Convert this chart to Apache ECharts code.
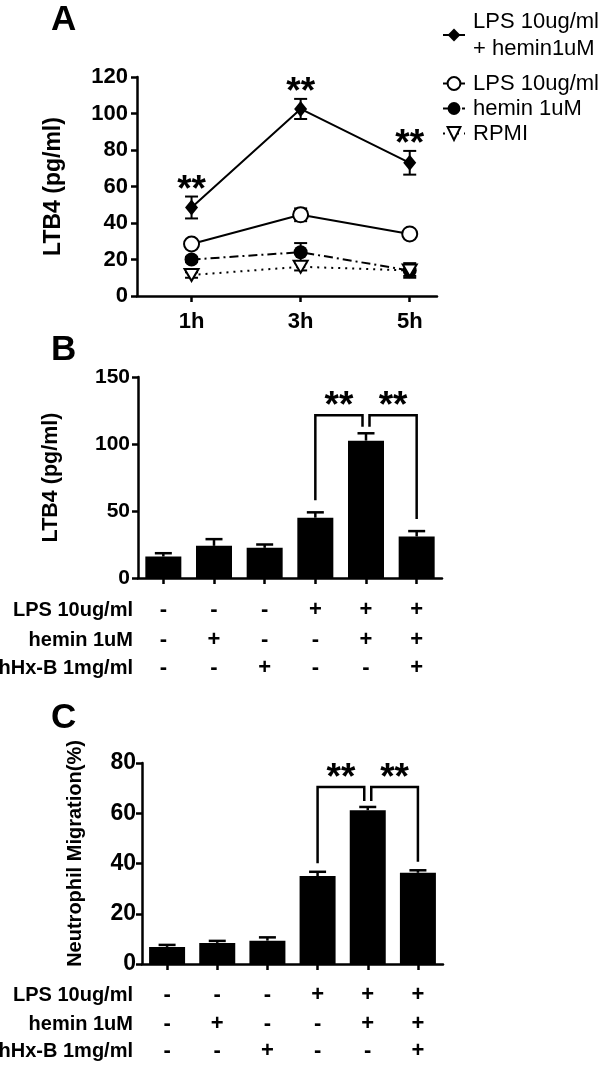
<!DOCTYPE html>
<html><head><meta charset="utf-8">
<script src="https://cdn.jsdelivr.net/npm/echarts@6/dist/echarts.min.js"></script>
<style>html,body{margin:0;padding:0;background:#fff}#c{width:605px;height:1067px}</style>
</head><body><div id="c"></div>
<script>
const FONT = "'Liberation Sans', Arial, sans-serif";

// ---------- Panel A data ----------
const timeLabels = ['1h', '3h', '5h'];
const timeValues = [1, 3, 5];
const groupNames = ['LPS 10ug/ml\n+ hemin1uM', 'LPS 10ug/ml', 'hemin 1uM', 'RPMI'];
const lpsHeminMean = [48.5, 102.5, 73];
const lpsHeminErr = [6, 5.5, 6.5];
const lpsMean = [28.5, 44.5, 34];
const lpsErr = [1.5, 3.5, 1.5];
const heminMean = [20, 24, 14];
const heminErr = [1.5, 5, 4];
const rpmiMean = [11.5, 16, 14];
const rpmiErr = [1.5, 2, 3];
const sigA = ['**', '**', '**'];
const yTicksA = [0, 120, 20];

// ---------- Panel B / C data ----------
const conditions = ['c1', 'c2', 'c3', 'c4', 'c5', 'c6'];
const rowLabels = ['LPS 10ug/ml', 'hemin 1uM', 'hHx-B 1mg/ml'];
const lpsRow = ['-', '-', '-', '+', '+', '+'];
const heminRow = ['-', '+', '-', '-', '+', '+'];
const hhxRow = ['-', '-', '+', '-', '-', '+'];
const ltb4Mean = [16, 24, 22.5, 45, 102.5, 31];
const ltb4Err = [2.5, 5, 2.5, 4, 5.5, 4];
const compB = [[3, 4, '**'], [4, 5, '**']];
const yTicksB = [0, 150, 50];
const migMean = [6.8, 8.4, 9.3, 35, 61.2, 36.3];
const migErr = [0.8, 0.8, 1.3, 1.7, 1.3, 1];
const compC = [[3, 4, '**'], [4, 5, '**']];
const yTicksC = [0, 80, 20];

const chart = echarts.init(document.getElementById('c'));

const axisLineStyle = { lineStyle: { color: '#000', width: 2.5 } };
const tickStyle = { show: true, length: 6, lineStyle: { color: '#000', width: 2.5 } };

function yAxis(gridIndex, t, name, nameGap, nameSize, labelSize, margin, namePad) {
  return {
    type: 'value', gridIndex, min: t[0], max: t[1], interval: t[2],
    axisLine: Object.assign({ show: true }, axisLineStyle),
    axisTick: tickStyle, splitLine: { show: false },
    axisLabel: { fontSize: labelSize, fontWeight: 'bold', color: '#000', fontFamily: FONT, margin },
    name, nameLocation: 'middle', nameGap,
    nameTextStyle: { fontSize: nameSize, fontWeight: 'bold', color: '#000', fontFamily: FONT, padding: namePad || 0 }
  };
}

function tableAxis(gridIndex, row, name, offset, nameGap) {
  return {
    type: 'category', gridIndex, data: conditions, position: 'bottom', offset,
    axisLine: { show: false }, axisTick: { show: false }, splitLine: { show: false },
    axisLabel: {
      show: true, interval: 0, margin: 0, verticalAlign: 'middle',
      fontSize: 22, fontWeight: 'bold', color: '#000', fontFamily: FONT,
      formatter: (v, i) => row[i]
    },
    name, nameLocation: 'start', nameGap,
    nameTextStyle: { fontSize: 20, fontWeight: 'bold', color: '#000', fontFamily: FONT, verticalAlign: 'middle', align: 'right' }
  };
}

function barXAxis(gridIndex) {
  return {
    type: 'category', gridIndex, data: conditions,
    axisLine: Object.assign({ show: true }, axisLineStyle),
    axisTick: Object.assign({ alignWithLabel: true }, tickStyle),
    axisLabel: { show: false }, splitLine: { show: false }
  };
}

// error bars for panel A
const groupsA = [
  { m: lpsHeminMean, e: lpsHeminErr, sig: sigA },
  { m: lpsMean, e: lpsErr, sig: null },
  { m: heminMean, e: heminErr, sig: null },
  { m: rpmiMean, e: rpmiErr, sig: null }
];
const errDataA = [], errSigA = [];
groupsA.forEach(g => g.m.forEach((m, i) => {
  errDataA.push([timeValues[i], m, g.e[i]]);
  errSigA.push(g.sig ? g.sig[i] : '');
}));

function errRenderA(params, api) {
  const x = api.value(0), m = api.value(1), e = api.value(2);
  const top = api.coord([x, m + e]), bot = api.coord([x, m - e]);
  const hw = 6.5, st = { stroke: '#000', lineWidth: 2 };
  const ch = [
    { type: 'line', shape: { x1: top[0], y1: top[1], x2: bot[0], y2: bot[1] }, style: st },
    { type: 'line', shape: { x1: top[0] - hw, y1: top[1], x2: top[0] + hw, y2: top[1] }, style: st },
    { type: 'line', shape: { x1: bot[0] - hw, y1: bot[1], x2: bot[0] + hw, y2: bot[1] }, style: st }
  ];
  const s = errSigA[params.dataIndex];
  if (s) ch.push({ type: 'text', x: top[0], y: top[1] - 6, style: { text: s, font: 'bold 37px ' + FONT, align: 'center', verticalAlign: 'middle', fill: '#000' } });
  return { type: 'group', children: ch };
}

function barErrRender(means, errs) {
  return function (params, api) {
    const i = api.value(0);
    const top = api.coord([i, means[i] + errs[i]]), base = api.coord([i, means[i]]);
    const hw = 8.5, st = { stroke: '#000', lineWidth: 2.5 };
    return { type: 'group', children: [
      { type: 'line', shape: { x1: top[0], y1: top[1], x2: base[0], y2: base[1] }, style: st },
      { type: 'line', shape: { x1: top[0] - hw, y1: top[1], x2: top[0] + hw, y2: top[1] }, style: st }
    ] };
  };
}

function bracketRender(means, errs, comps, rise, legGap, sharedGap) {
  const count = i => comps.filter(q => q[0] === i || q[1] === i).length;
  return function (params, api) {
    const c = comps[params.dataIndex];
    const a = c[0], b = c[1];
    let minTop = Infinity;
    comps.forEach(q => [q[0], q[1]].forEach(k => { minTop = Math.min(minTop, api.coord([k, means[k] + errs[k]])[1]); }));
    const pa = api.coord([a, means[a] + errs[a]]), pb = api.coord([b, means[b] + errs[b]]);
    const xa = pa[0] + (count(a) > 1 ? 3.5 : 0), xb = pb[0] - (count(b) > 1 ? 3.5 : 0);
    const topY = minTop - rise;
    const ya = pa[1] - (count(a) > 1 ? sharedGap : legGap);
    const yb = pb[1] - (count(b) > 1 ? sharedGap : legGap);
    return { type: 'group', children: [
      { type: 'polyline', shape: { points: [[xa, ya], [xa, topY], [xb, topY], [xb, yb]] }, style: { stroke: '#000', lineWidth: 2.5, fill: null } },
      { type: 'text', x: (xa + xb) / 2, y: topY - 8, style: { text: c[2], font: 'bold 37px ' + FONT, align: 'center', verticalAlign: 'middle', fill: '#000' } }
    ] };
  };
}

const lineSeries = (name, m, symbol, size, itemStyle, lineType) => ({
  type: 'line', name, xAxisIndex: 0, yAxisIndex: 0, z: 3,
  data: m.map((v, i) => [timeValues[i], v]),
  symbol, symbolSize: size, showSymbol: true,
  itemStyle, lineStyle: { color: '#000', width: 2, type: lineType },
  emphasis: { disabled: true }, animation: false
});

const openStyle = { color: '#fff', borderColor: '#000', borderWidth: 2 };
const fillStyle = { color: '#000', borderColor: '#000', borderWidth: 0 };
const triPath = 'path://M0,0L12,0L6,10Z';

const legendText = { fontSize: 22, fontFamily: FONT, color: '#000', padding: [0, 0, 0, 3] };

const option = {
  animation: false,
  backgroundColor: '#fff',
  textStyle: { fontFamily: FONT },
  graphic: [
    { type: 'text', left: 51, top: 3, style: { text: 'A', font: 'bold 35px ' + FONT, fill: '#000' } },
    { type: 'text', left: 51, top: 333, style: { text: 'B', font: 'bold 35px ' + FONT, fill: '#000' } },
    { type: 'text', left: 51, top: 701, style: { text: 'C', font: 'bold 35px ' + FONT, fill: '#000' } }
  ],
  legend: [
    { data: [groupNames[0]], orient: 'vertical', left: 437, top: 3, itemWidth: 22, itemHeight: 16,
      textStyle: Object.assign({ lineHeight: 27 }, legendText), selectedMode: false },
    { data: groupNames.slice(1), orient: 'vertical', left: 437, top: 66, itemWidth: 22, itemHeight: 16, itemGap: 0,
      textStyle: Object.assign({ lineHeight: 25 }, legendText), selectedMode: false }
  ],
  grid: [
    { left: 137, top: 77, width: 300, height: 219, outerBoundsMode: 'none' },
    { left: 138, top: 377, width: 304, height: 201, outerBoundsMode: 'none' },
    { left: 142, top: 763, width: 301, height: 201, outerBoundsMode: 'none' }
  ],
  xAxis: [
    { type: 'value', gridIndex: 0, min: 0, max: 5.5,
      axisLine: Object.assign({ show: true }, axisLineStyle),
      axisTick: Object.assign({ customValues: timeValues }, tickStyle),
      splitLine: { show: false },
      axisLabel: { customValues: timeValues, formatter: v => timeLabels[timeValues.indexOf(v)],
        fontSize: 22, fontWeight: 'bold', color: '#000', fontFamily: FONT, margin: 15 } },
    barXAxis(1),
    tableAxis(1, lpsRow, rowLabels[0], 32, 5),
    tableAxis(1, heminRow, rowLabels[1], 62, 5),
    tableAxis(1, hhxRow, rowLabels[2], 90, 5),
    barXAxis(2),
    tableAxis(2, lpsRow, rowLabels[0], 31, 9),
    tableAxis(2, heminRow, rowLabels[1], 60, 9),
    tableAxis(2, hhxRow, rowLabels[2], 87, 9)
  ],
  yAxis: [
    yAxis(0, yTicksA, 'LTB4 (pg/ml)', 72, 23, 22, 9),
    yAxis(1, yTicksB, 'LTB4 (pg/ml)', 76, 21.5, 21, 8),
    yAxis(2, yTicksC, 'Neutrophil Migration(%)', 57, 20, 23, 6, [0, 0, 0, 20])
  ],
  series: [
    { type: 'custom', xAxisIndex: 0, yAxisIndex: 0, z: 2, data: errDataA, renderItem: errRenderA, encode: { x: 0, y: 1 } },
    lineSeries(groupNames[0], lpsHeminMean, 'diamond', [13, 16], fillStyle, 'solid'),
    lineSeries(groupNames[1], lpsMean, 'circle', 15, openStyle, 'solid'),
    lineSeries(groupNames[2], heminMean, 'circle', 14, fillStyle, [9, 4, 2, 4]),
    lineSeries(groupNames[3], rpmiMean, triPath, [14, 12], openStyle, [2, 5]),

    { type: 'bar', xAxisIndex: 1, yAxisIndex: 1, data: ltb4Mean, barWidth: 36, itemStyle: { color: '#000' }, z: 2 },
    { type: 'custom', xAxisIndex: 1, yAxisIndex: 1, z: 3, data: ltb4Mean.map((m, i) => [i, m + ltb4Err[i]]), renderItem: barErrRender(ltb4Mean, ltb4Err) },
    { type: 'custom', xAxisIndex: 1, yAxisIndex: 1, z: 3, data: compB.map(c => [c[0], c[1]]), renderItem: bracketRender(ltb4Mean, ltb4Err, compB, 18, 12, 6.5) },

    { type: 'bar', xAxisIndex: 5, yAxisIndex: 2, data: migMean, barWidth: 36, itemStyle: { color: '#000' }, z: 2 },
    { type: 'custom', xAxisIndex: 5, yAxisIndex: 2, z: 3, data: migMean.map((m, i) => [i, m + migErr[i]]), renderItem: barErrRender(migMean, migErr) },
    { type: 'custom', xAxisIndex: 5, yAxisIndex: 2, z: 3, data: compC.map(c => [c[0], c[1]]), renderItem: bracketRender(migMean, migErr, compC, 20, 8.5, 6) }
  ]
};
chart.setOption(option);
</script>
</body></html>
